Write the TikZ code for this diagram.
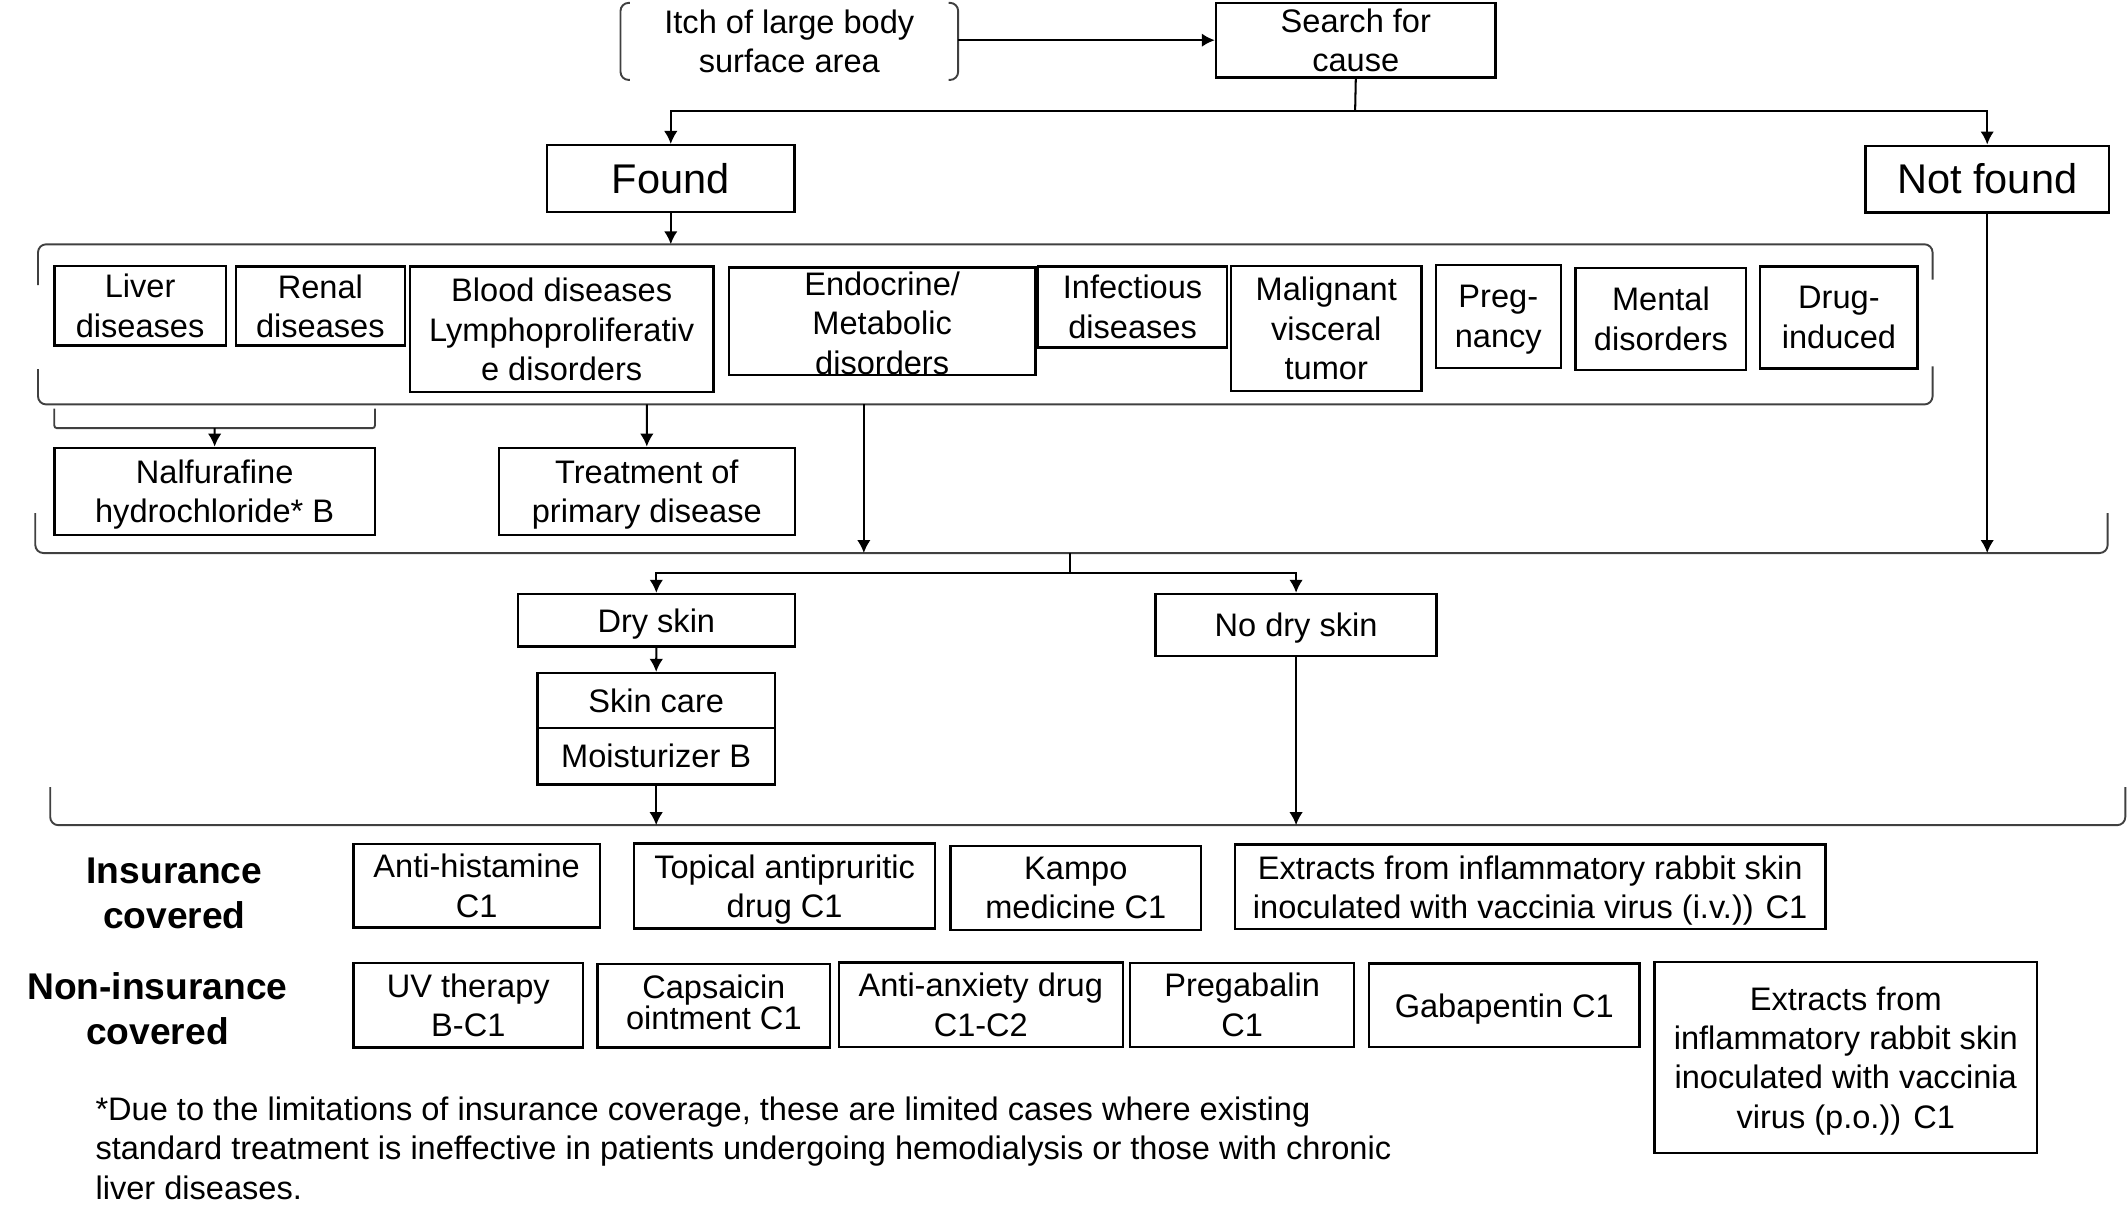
\documentclass[tikz,border=0pt]{standalone}
\usepackage{fontspec}
\setmainfont{Liberation Sans}
\usetikzlibrary{arrows.meta}
\newcommand\nf{\fontsize{12}{14.5}\selectfont}
\newcommand\bigf{\fontsize{15.3}{18}\selectfont}
\newcommand\lblf{\fontsize{13.7}{16.5}\selectfont\bfseries}
\newcommand\ld[1]{\raisebox{0pt}[\height][0pt]{#1}}
\newcommand\bx[6]{\node[box, minimum width={(#4-#2)*0.5pt}, minimum height={(#5-#3)*0.5pt}] (#1) at ({(#2+#4)/2},{(#3+#5)/2}) {#6};}
\tikzset{
  box/.style={draw=black, line width=0.9pt, align=center, inner sep=0pt, font=\nf},
  arr/.style={-{Latex[length=4.8pt,width=5pt]}, line width=0.75pt},
  ln/.style={line width=0.75pt},
  brk/.style={line width=0.7pt, draw=black!75, rounded corners=3pt},
  txt/.style={align=center, inner sep=0pt, font=\nf}
}
\begin{document}
\begin{tikzpicture}[x=0.5pt,y=-0.5pt]
\path[use as bounding box] (0,0) rectangle (1568,891);

% top row
\node[txt, minimum width=124pt, minimum height=28pt] (itch) at (581.6,30.5) {Itch of large body\\surface area};
\draw[brk] ([xshift=3.5pt]itch.north west) -- (itch.north west) -- (itch.south west) -- ([xshift=3.5pt]itch.south west);
\draw[brk] ([xshift=-3.5pt]itch.north east) -- (itch.north east) -- (itch.south east) -- ([xshift=-3.5pt]itch.south east);
\bx{search}{896}{2}{1102}{57.2}{Search for\\cause}
\draw[arr] (itch.east |- search.west) -- (search.west);

\bx{found}{403}{107}{585.5}{156}{\bigf Found}
\bx{notfound}{1374.5}{107.4}{1554}{156.5}{\bigf Not found}

\coordinate (j1) at (998.5,82);
\draw[ln] (search.south) -- (j1);
\draw[arr] (j1) -| (found.north);
\draw[arr] (j1) -| (notfound.north);

% group 1 bracket
\coordinate (g1top) at (494.25,180);
\draw[arr] (found.south) -- (g1top);
\draw[brk] (28,210) -- (28,180) -- (1424,180) -- (1424,206);
\draw[brk] (28,272) -- (28,298) -- (1424,298) -- (1424,270);

% disease boxes
\bx{liver}{40}{196}{166.5}{254.5}{Liver\\diseases}
\bx{renal}{173.7}{196.5}{298.4}{254.7}{Renal\\diseases}
\bx{blood}{302}{196.5}{525.7}{289}{Blood diseases\\Lymphoproliferativ\\e disorders}
\bx{endo}{537}{197.2}{763}{276.3}{}
\node[txt] (endotext) at (650,238) {Endocrine/\\Metabolic\\disorders};
\bx{infect}{765}{196.5}{904}{255.9}{Infectious\\diseases}
\bx{malig}{907}{196}{1047.5}{288}{Malignant\\visceral\\tumor}
\bx{preg}{1058}{195.3}{1150}{271}{Preg-\\\ld{nancy}}
\bx{mental}{1161}{197.3}{1286.7}{272.7}{Mental\\disorders}
\bx{drug}{1297}{196.5}{1413}{271.4}{Drug-\\induced}

% liver / renal bracket
\draw[brk, rounded corners=1pt] (40,301) -- (40,315.5) -- (276.3,315.5) -- (276.3,301);
\coordinate (lrb) at (158.2,315.5);
\bx{nalf}{40}{330}{276.3}{394.2}{Nalfurafine\\\ld{hydrochloride* B}}
\draw[arr] (lrb) -- (nalf.north);

\coordinate (g1b) at (476.6,298);
\bx{treat}{367.5}{330}{585.7}{394}{Treatment of\\\ld{primary disease}}
\draw[arr] (g1b) -- (treat.north);

% group 2 bracket
\draw[brk] (26,378) -- (26,407.5) -- (1553,407.5) -- (1553,378);
\coordinate (endoA) at (636.5,298);
\coordinate (endoB) at (636.5,407.5);
\draw[arr] (endoA) -- (endoB);
\coordinate (nfB) at (1464.25,407.5);
\draw[arr] (notfound.south) -- (nfB);

\coordinate (g2) at (788.5,407.5);
\coordinate (j2) at (788.5,422.5);
\draw[ln] (g2) -- (j2);

\bx{dry}{381.5}{437.7}{585.7}{476.5}{\ld{Dry skin}}
\bx{nodry}{851.5}{437.7}{1058.5}{483.4}{\ld{No dry skin}}
\draw[arr] (j2) -| (dry.north);
\draw[arr] (j2) -| (nodry.north);

\bx{skin}{396}{496}{571}{536.5}{Skin care}
\bx{moist}{396}{536.5}{571}{578}{Moisturizer B}
\draw[arr] (dry.south) -- (skin.north);

% group 3 bracket
\draw[brk] (37,580) -- (37,608) -- (1566,608) -- (1566,580);
\coordinate (g3a) at (483.5,608);
\coordinate (g3b) at (955,608);
\draw[arr] (moist.south) -- (g3a);
\draw[arr] (nodry.south) -- (g3b);

% labels
\node[align=center, inner sep=0pt, font=\lblf] (ins) at (128.5,658) {Insurance\\covered};
\node[align=center, inner sep=0pt, font=\lblf] (nonins) at (116,743) {Non-insurance\\covered};

% row 1
\bx{antih}{260.4}{622}{442}{683.4}{Anti-histamine\\C1}
\bx{topical}{467.3}{621.5}{689}{684}{Topical antipruritic\\\ld{drug C1}}
\bx{kampo}{700.4}{623.5}{885}{685.4}{Kampo\\medicine C1}
\bx{extiv}{910}{622.3}{1345}{684.7}{Extracts from inflammatory rabbit skin\\\ld{inoculated with vaccinia virus (i.v.)) C1}}

% row 2
\bx{uv}{260.4}{709.5}{429.7}{771.8}{UV therapy\\B-C1}
\bx{caps}{440.3}{710.5}{611.6}{771.8}{}
\node[txt, font=\fontsize{12}{11.5}\selectfont] (capstext) at (526,738.5) {Capsaicin\\ointment C1};
\bx{anx}{618}{709.2}{827.4}{771.6}{Anti-anxiety drug\\C1-C2}
\bx{preg2}{832.8}{709.5}{997.7}{771.4}{Pregabalin\\C1}
\bx{gaba}{1008.9}{710}{1208}{771.6}{\ld{Gabapentin C1}}
\bx{extpo}{1219}{708.7}{1501}{849.5}{Extracts from\\inflammatory rabbit skin\\inoculated with vaccinia\\\ld{virus (p.o.)) C1}}

% footnote
\node[align=left, inner sep=0pt, font=\nf, anchor=west] (foot) at (70,846) {*Due to the limitations of insurance coverage, these are limited cases where existing\\standard treatment is ineffective in patients undergoing hemodialysis or those with chronic\\liver diseases.};
\end{tikzpicture}
\end{document}
